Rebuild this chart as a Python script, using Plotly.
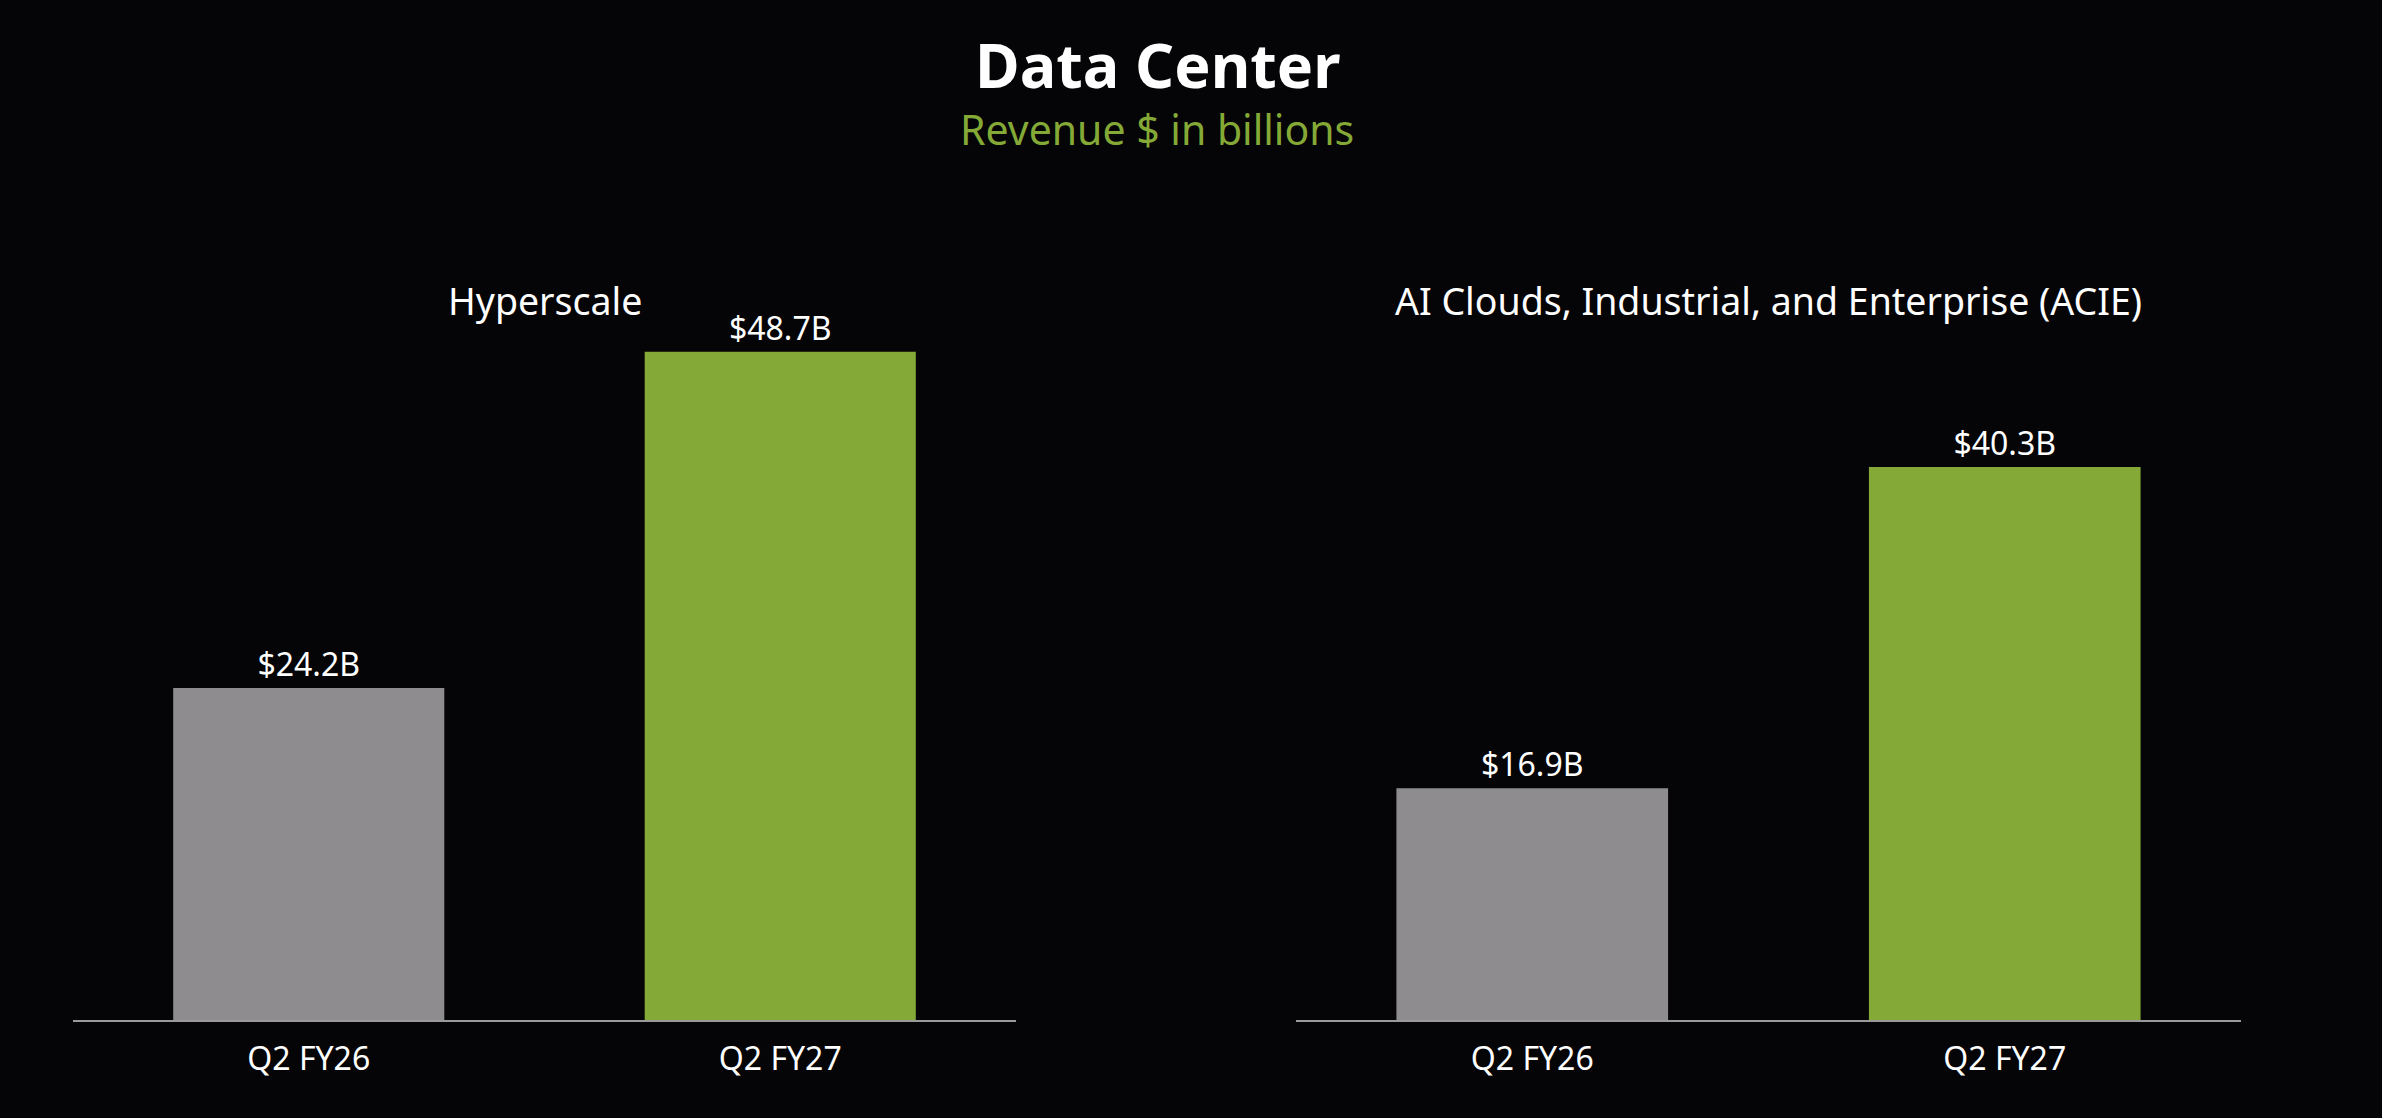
import plotly.graph_objects as go
from plotly.subplots import make_subplots

quarters = ['Q2 FY26', 'Q2 FY27']
hyperscale = [24.2, 48.7]
acie = [16.9, 40.3]
panel_titles = ['Hyperscale', 'AI Clouds, Industrial, and Enterprise (ACIE)']

bar_colors = ['#8e8c8f', '#84a936']
bg = '#050407'
font_name = 'Noto Sans'

fig = make_subplots(1, 2)
fig.add_trace(go.Bar(x=quarters, y=hyperscale, marker_color=bar_colors,
                     text=['$' + str(v) + 'B' for v in hyperscale]), 1, 1)
fig.add_trace(go.Bar(x=quarters, y=acie, marker_color=bar_colors,
                     text=['$' + str(v) + 'B' for v in acie]), 1, 2)
fig.update_traces(textposition='outside', cliponaxis=False, marker_line_width=0,
                  textfont=dict(size=32, color='white', family=font_name))

ybot = 1 - 1020 / 1118
ytop = 1 - 200 / 1118
fig.update_xaxes(showgrid=False, showline=True, linecolor='#9a9a9a', linewidth=2,
                 ticks='outside', ticklen=10, tickcolor='rgba(0,0,0,0)',
                 tickfont=dict(size=32, color='white', family=font_name))
fig.update_yaxes(showgrid=False, zeroline=False, showticklabels=False,
                 range=[0, 59.77], domain=[ybot, ytop])
fig.update_layout(
    xaxis=dict(domain=[73 / 2382, 1016 / 2382]),
    xaxis2=dict(domain=[1296 / 2382, 2241 / 2382]),
    bargap=0.425,
    width=2382, height=1118,
    margin=dict(l=0, r=0, t=0, b=0),
    paper_bgcolor=bg, plot_bgcolor=bg,
    showlegend=False,
    font=dict(family=font_name, color='white'),
)

# headline and panel titles
fig.add_annotation(text='<b>Data Center</b>', x=1157 / 2382, y=1 - 65 / 1118,
                   xref='paper', yref='paper', showarrow=False,
                   xanchor='center', yanchor='middle',
                   font=dict(size=61, color='white', family=font_name))
fig.add_annotation(text='Revenue $ in billions', x=1157 / 2382, y=1 - 129 / 1118,
                   xref='paper', yref='paper', showarrow=False,
                   xanchor='center', yanchor='middle',
                   font=dict(size=41, color='#84a936', family=font_name))
for t, xc in zip(panel_titles, [544.5, 1768.5]):
    fig.add_annotation(text=t, x=xc / 2382, y=1 - 300 / 1118,
                       xref='paper', yref='paper', showarrow=False,
                       xanchor='center', yanchor='middle',
                       font=dict(size=37.5, color='white', family=font_name))

fig.write_html('out.html', config={'displaylogo': False, 'displayModeBar': False},
               post_script="document.body.style.margin='0px';")
